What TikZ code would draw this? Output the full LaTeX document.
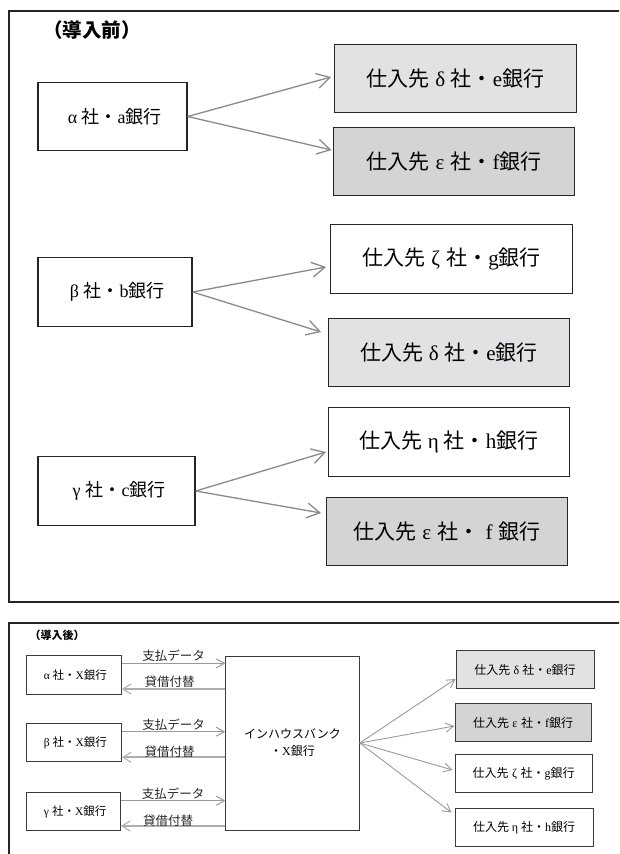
\documentclass[tikz,border=0pt]{standalone}
\usepackage{fontspec}
\setmainfont{Noto Sans CJK JP}
\newfontfamily\lat{Liberation Serif}
\usetikzlibrary{arrows.meta}

\definecolor{edge}{HTML}{252525}
\definecolor{shadeA}{HTML}{E2E2E4}
\definecolor{shadeB}{HTML}{D4D4D4}
\definecolor{link}{HTML}{8A8A8A}
\definecolor{linkB}{HTML}{9A9A9A}
\definecolor{linkC}{HTML}{AEAEAE}

% Greek letter in a full-width slot, Latin letters in serif
\newcommand{\gk}[1]{\makebox[1em]{\lat #1}}
\newcommand{\la}[1]{{\lat #1}}
\newcommand{\vendor}[2]{仕入先\gk{#1}社・\la{#2}銀行}
\newcommand{\firmname}[2]{\gk{#1}社・\la{#2}銀行}

\tikzset{
  frame/.style={draw=edge, line width=2pt},
  bigbox/.style={draw=edge, line width=1.4pt, inner sep=0pt,
    minimum height=68.5pt},
  leftbig/.style={bigbox, font=\fontsize{18}{20}\selectfont},
  suppbig/.style={bigbox, minimum width=241.5pt, font=\fontsize{21}{24}\selectfont},
  smallbox/.style={draw=edge!90, line width=1pt, inner sep=0pt,
    minimum height=38.5pt, font=\fontsize{11.5}{13}\selectfont},
  leftsmall/.style={smallbox, minimum width=95pt},
  suppsmall/.style={smallbox, minimum width=137pt, font=\fontsize{12}{14}\selectfont},
  bigarrow/.style={draw=link, line width=1.3pt,
    -{Straight Barb[length=13pt,width=15pt,line width=1.3pt]}},
  fanarrow/.style={draw=linkB, line width=0.9pt,
    -{Straight Barb[length=8pt,width=9pt,line width=0.9pt]}},
  payarrow/.style={draw=linkB, line width=1pt,
    -{Straight Barb[length=8pt,width=9pt,line width=1pt]}},
  backarrow/.style={draw=linkC, line width=1.7pt,
    -{Straight Barb[length=8pt,width=10pt,line width=1.1pt]}},
  lbl/.style={midway, above, inner sep=1pt, text=black!85,
    font=\fontsize{12.5}{14}\selectfont},
}

\begin{document}
\begin{tikzpicture}[x=1pt, y=-1pt]
\useasboundingbox (0,0) rectangle (619,854);
\clip (0,0) rectangle (619,854);

% ---------- upper panel ----------
\draw[frame] (9,11) rectangle (650,601.5);
\node[font=\fontsize{19.5}{22}\selectfont\bfseries] (t1) at (92,30) {（導入前）};

\node[leftbig, minimum width=149pt] (A) at (112.5,116.5) {\firmname{α}{a}};
\node[leftbig, minimum width=154pt] (B) at (115,292) {\firmname{β}{b}};
\node[leftbig, minimum width=157pt] (G) at (116.5,491) {\firmname{γ}{c}};

\node[suppbig, fill=shadeA] (D1) at (455.5,78.5)  {\vendor{δ}{e}};
\node[suppbig, fill=shadeB] (E1) at (454,161.5)   {\vendor{ε}{f}};
\node[suppbig]              (Z1) at (451.5,259)   {\vendor{ζ}{g}};
\node[suppbig, fill=shadeA] (D2) at (449,352.5)   {\vendor{δ}{e}};
\node[suppbig]              (H1) at (449,442)     {\vendor{η}{h}};
\node[suppbig, fill=shadeB] (E2) at (447,531.5)
  {仕入先\gk{ε}社・\hspace{0.3em}\la{f}\hspace{0.3em}銀行};

\draw[bigarrow] (A.east) -- ([xshift=-3pt,yshift=1.5pt]D1.west);
\draw[bigarrow] (A.east) -- ([xshift=-1pt,yshift=11.5pt]E1.west);
\draw[bigarrow] (B.east) -- ([xshift=-4pt,yshift=-8pt]Z1.west);
\draw[bigarrow] (B.east) -- ([xshift=-6.5pt,yshift=20.5pt]D2.west);
\draw[bigarrow] (G.east) -- ([xshift=-1.5pt,yshift=-10pt]H1.west);
\draw[bigarrow] (G.east) -- ([xshift=-4.5pt,yshift=18.5pt]E2.west);

% ---------- lower panel ----------
\draw[frame] (9,622.5) rectangle (650,900);
\node[font=\fontsize{11}{13}\selectfont\bfseries] (t2) at (57,635) {（導入後）};

\node[leftsmall] (a2) at (74,675)     {\firmname{α}{X}};
\node[leftsmall] (b2) at (74,742.5)   {\firmname{β}{X}};
\node[leftsmall, minimum width=94pt] (g2) at (73.5,811.5) {\firmname{γ}{X}};

\node[draw=edge!90, line width=1pt, minimum width=133.5pt, minimum height=174pt,
      align=center, font=\fontsize{12}{17}\selectfont] (bank) at (292.5,743)
  {インハウスバンク\\・\la{X}銀行};

\node[suppsmall, fill=shadeA, minimum width=138pt] (d3) at (525,669.5) {\vendor{δ}{e}};
\node[suppsmall, fill=shadeB, minimum width=136pt] (e3) at (523,722.5) {\vendor{ε}{f}};
\node[suppsmall]                                   (z3) at (523.5,773.5) {\vendor{ζ}{g}};
\node[suppsmall, minimum width=138pt]              (h3) at (524,827.5) {\vendor{η}{h}};

% payment data in, account transfers back out
\draw[payarrow] ([yshift=11.7pt]a2.east) -- ([yshift=11.7pt]a2.east -| bank.west)
  node[lbl] {支払データ};
\draw[backarrow] ([yshift=-14pt]a2.east -| bank.west) -- ([yshift=-14pt]a2.east)
  node[lbl, xshift=-4pt] {貸借付替};
\draw[payarrow] ([yshift=10.8pt]b2.east) -- ([yshift=10.8pt]b2.east -| bank.west)
  node[lbl] {支払データ};
\draw[backarrow] ([yshift=-14.8pt]b2.east -| bank.west) -- ([yshift=-14.8pt]b2.east)
  node[lbl, xshift=-4pt, yshift=-2.5pt] {貸借付替};
\draw[payarrow] ([yshift=10.8pt]g2.east) -- ([yshift=10.8pt]g2.east -| bank.west)
  node[lbl] {支払データ};
\draw[backarrow] ([yshift=-14.5pt]g2.east -| bank.west) -- ([yshift=-14.5pt]g2.east)
  node[lbl, xshift=-5pt, yshift=-2.5pt] {貸借付替};

% bank fans out to the suppliers
\draw[fanarrow] (bank.east) -- ([yshift=-9.5pt]d3.west);
\draw[fanarrow] (bank.east) -- ([yshift=-3.5pt]e3.west);
\draw[fanarrow] (bank.east) -- ([xshift=-2pt,yshift=3.5pt]z3.west);
\draw[fanarrow] (bank.east) -- ([xshift=-3pt,yshift=15pt]h3.west);
\end{tikzpicture}
\end{document}
